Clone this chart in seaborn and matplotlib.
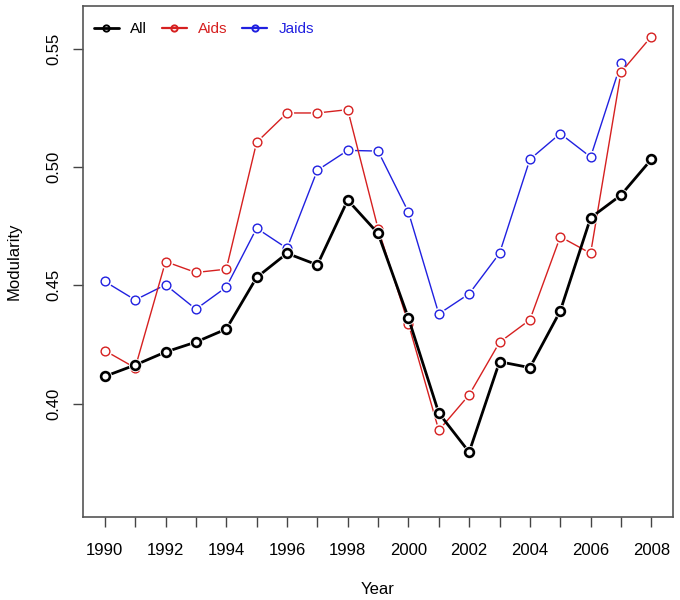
import pandas as pd
import seaborn as sns
import matplotlib.pyplot as plt
from matplotlib.lines import Line2D


years = list(range(1990, 2009))

all_vals = [0.4115, 0.4163, 0.4218, 0.4260, 0.4315, 0.4533, 0.4635, 0.4586, 0.4860,
            0.4719, 0.4361, 0.3960, 0.3795, 0.4177, 0.4152, 0.4391, 0.4785, 0.4881, 0.5032]
aids_vals = [0.4224, 0.4151, 0.4600, 0.4554, 0.4568, 0.5104, 0.5228, 0.5228, 0.5242,
             0.4739, 0.4337, 0.3887, 0.4037, 0.4259, 0.4354, 0.4705, 0.4635, 0.5400, 0.5551]
jaids_years = years[:-1]
jaids_vals = [0.4516, 0.4438, 0.4502, 0.4399, 0.4492, 0.4741, 0.4656, 0.4986, 0.5070,
              0.5067, 0.4809, 0.4379, 0.4464, 0.4635, 0.5032, 0.5141, 0.5042, 0.5438]

series = [
    ("All", years, all_vals, "black", 2.0, 1.9),
    ("Aids", years, aids_vals, "#d62020", 1.0, 1.0),
    ("Jaids", jaids_years, jaids_vals, "#2020e0", 1.0, 1.0),
]

sns.set_style("ticks")
plt.rcParams['font.family'] = ['Liberation Sans', 'DejaVu Sans']
plt.rcParams['text.color'] = 'black'
plt.rcParams['axes.labelcolor'] = 'black'
plt.rcParams['xtick.labelcolor'] = 'black'
plt.rcParams['ytick.labelcolor'] = 'black'

fig = plt.figure(figsize=(6.8, 6), dpi=100)
ax = fig.add_axes([0.122, 0.138, 0.868, 0.852])

# draw in reverse so black sits on top, like the original
for name, xs, ys, col, lw, mew in series[::-1]:
    df = pd.DataFrame({"Year": xs, "Modularity": ys})
    sns.lineplot(data=df, x="Year", y="Modularity", color=col, linewidth=lw, ax=ax,
                 marker="o", markersize=9.5, markerfacecolor="white",
                 markeredgecolor="white", markeredgewidth=0)
    ax.plot(xs, ys, linestyle="none", marker="o", markersize=6.3,
            markerfacecolor="none", markeredgecolor=col, markeredgewidth=mew)

ax.set_xlim(1989.28, 2008.72)
ax.set_ylim(0.352, 0.568)
ax.set_xticks(years)
ax.set_xticklabels([str(y) if y % 2 == 0 else "" for y in years])
ax.set_yticks([0.40, 0.45, 0.50, 0.55])
ax.set_yticklabels(["0.40", "0.45", "0.50", "0.55"], rotation=90, va="center")
ax.tick_params(axis="both", labelsize=12, length=7.5, width=1, color="#444444")
ax.tick_params(axis="x", pad=11)
ax.tick_params(axis="y", pad=8)
for sp in ax.spines.values():
    sp.set_visible(True)
    sp.set_color("#555555")
    sp.set_linewidth(1.2)

ax.set_xlabel("Year", fontsize=12, labelpad=17.5)
ax.set_ylabel("Modularity", fontsize=12, labelpad=18)

handles = [Line2D([], [], color=c, linewidth=2 if n == "All" else 1.6, marker="o",
                  markersize=4.5, markerfacecolor="none", markeredgecolor=c,
                  markeredgewidth=1.4)
           for n, _, _, c, _, _ in series]
leg = ax.legend(handles, [s[0] for s in series], loc="upper left", ncol=3, frameon=False,
                fontsize=11, handlelength=1.65, handletextpad=0.75, columnspacing=0.95,
                borderaxespad=0.6, bbox_to_anchor=(-0.008, 0.998))
for txt, s in zip(leg.get_texts(), series):
    txt.set_color(s[3])

fig.savefig("out.png", dpi=100)
